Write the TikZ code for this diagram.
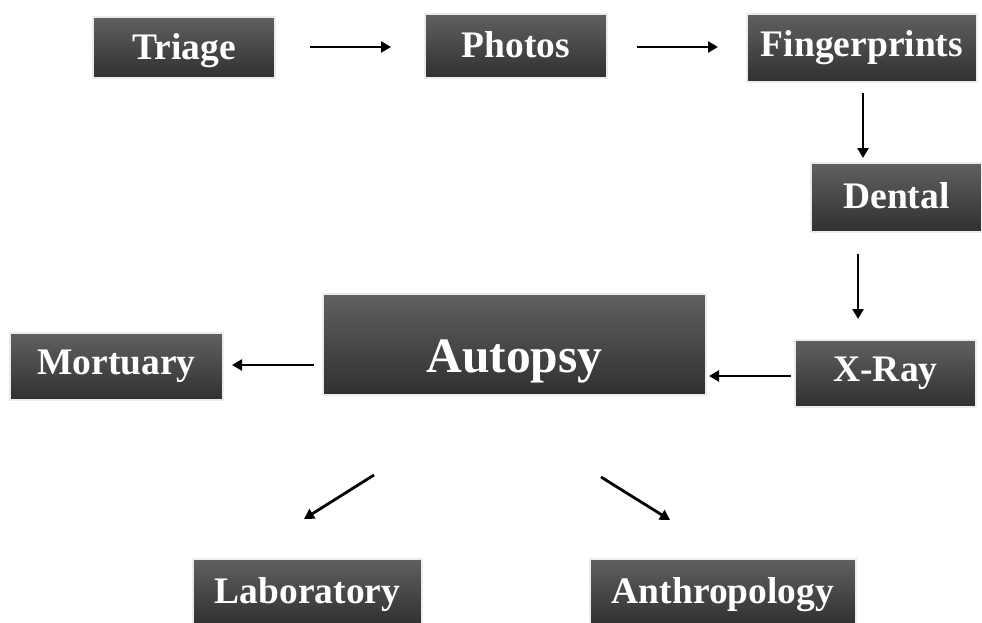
\documentclass[tikz,border=0pt]{standalone}
\usepackage{fontspec}
\setmainfont{Liberation Serif}
\usetikzlibrary{arrows.meta}
\definecolor{boxtop}{RGB}{96,96,96}
\definecolor{boxbot}{RGB}{48,48,48}
\definecolor{halo}{RGB}{236,236,236}
\newcommand{\tshift}[2]{\raisebox{#1}[\height][\depth]{#2}}
\tikzset{
  box/.style={rectangle, draw=halo, line width=1.5pt, top color=boxtop, bottom color=boxbot,
    text=white, font=\bfseries\fontsize{37.5}{41}\selectfont, inner sep=0pt, anchor=center},
  conn/.style={-{Triangle[length=10pt,width=11pt]}, line width=2.8pt, black}
}
\begin{document}
\begin{tikzpicture}[x=1pt,y=-1pt]
\useasboundingbox (0,0) rectangle (982,623);
\node[box, minimum width=182, minimum height=61] (triage) at (184,47.5) {\tshift{-3pt}{Triage}};
\node[box, minimum width=182, minimum height=64] (photos) at (516,46) {\tshift{1pt}{Photos}};
\node[box, minimum width=230, minimum height=68] (finger) at (862,48) {Fingerprints};
\node[box, minimum width=171, minimum height=69] (dental) at (896.5,197.5) {\tshift{2pt}{Dental}};
\node[box, minimum width=181, minimum height=67] (xray) at (885.5,373.5) {X-Ray};
\node[box, minimum width=383, minimum height=101, font=\bfseries\fontsize{49.5}{54}\selectfont] (autopsy) at (514.5,344.5) {\tshift{-17pt}{Autopsy}};
\node[box, minimum width=213, minimum height=67] (mortuary) at (116.5,366.5) {Mortuary};
\node[box, minimum width=229, minimum height=66] (lab) at (307.5,592) {\tshift{-3pt}{Laboratory}};
\node[box, minimum width=266, minimum height=66] (anthro) at (723,592) {\tshift{-3pt}{Anthropology}};

\coordinate (a1s) at (310,47); \coordinate (a1e) at (391,47);
\coordinate (a2s) at (637,47); \coordinate (a2e) at (718,47);
\coordinate (a3s) at (863,93); \coordinate (a3e) at (863,158);
\coordinate (a4s) at (858,254); \coordinate (a4e) at (858,319);
\coordinate (a5s) at (791,376); \coordinate (a5e) at (709,376);
\coordinate (a6s) at (314,365); \coordinate (a6e) at (232,365);
\coordinate (a7s) at (374,475); \coordinate (a7e) at (304,519);
\coordinate (a8s) at (601,477); \coordinate (a8e) at (670,520);

\draw[conn] (a1s) -- (a1e);
\draw[conn] (a2s) -- (a2e);
\draw[conn] (a3s) -- (a3e);
\draw[conn] (a4s) -- (a4e);
\draw[conn] (a5s) -- (a5e);
\draw[conn] (a6s) -- (a6e);
\draw[conn] (a7s) -- (a7e);
\draw[conn] (a8s) -- (a8e);
\end{tikzpicture}
\end{document}
